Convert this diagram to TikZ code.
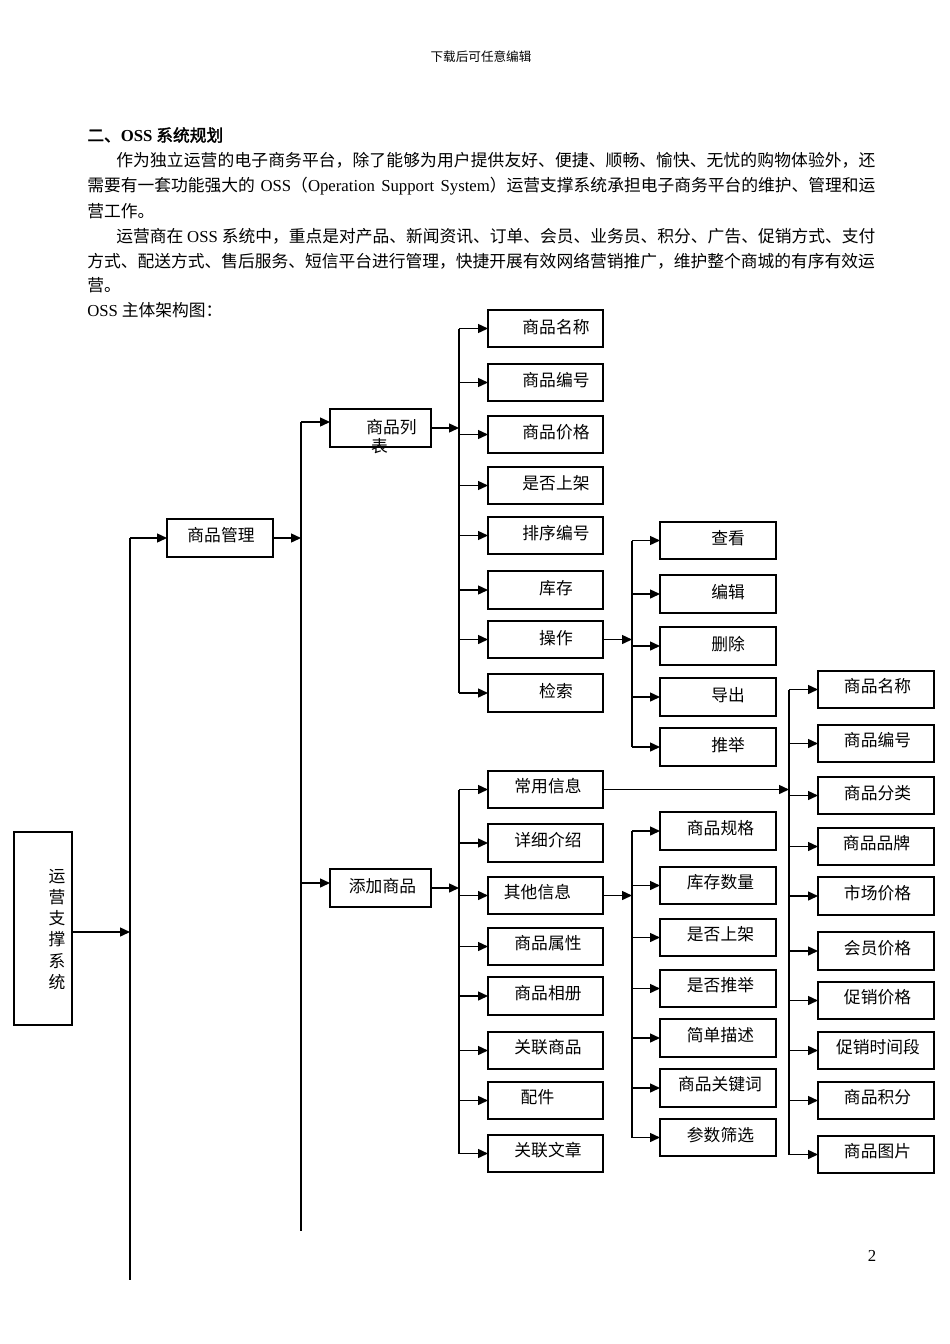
\documentclass[tikz,border=0pt]{standalone}
\usepackage{fontspec}
\setmainfont{Noto Sans CJK SC}[AutoFakeBold=2]
\newfontfamily\lat{Liberation Serif}
\usetikzlibrary{arrows.meta}
\XeTeXlinebreaklocale "zh"
\XeTeXlinebreakskip=0pt plus 1pt
\newcommand\qbox[5]{\node[boxst, minimum width={(#4-#2)*0.62661pt}, minimum height={(#5-#3)*0.62661pt}] (#1) at ({(#2+#4)/2},{(#3+#5)/2}) {};}
\newcommand\qlbl[4]{\node[lbl] (l#1) at (#2,#3) {#4};}
\newcommand\jline[2]{\parbox{#1}{\parindent=0pt\parfillskip=0pt\relax #2\par}}
\tikzset{
  boxst/.style={draw, rectangle, line width=0.85pt, inner sep=0pt, outer sep=0pt},
  lbl/.style={inner sep=0pt, font=\fontsize{10.5}{12}\selectfont},
  ln/.style={line width=0.8pt},
  arr/.style={line width=0.8pt, -{Triangle[length=6.2pt,width=5.6pt]}},
  txt/.style={anchor=west, inner sep=0pt, font=\fontsize{10.5}{12}\selectfont},
}
\begin{document}
\begin{tikzpicture}[x=0.62661pt, y=-0.62661pt]
\fill[white] (0,0) rectangle (950,1344);
\useasboundingbox (0,0) rectangle (950,1344);

% header and text
\node[inner sep=0pt, font=\fontsize{7.9}{9}\selectfont] (hdr) at (481,57) {下载后可任意编辑};
\node[txt] (title) at (87,135) {\bfseries 二、{\lat\bfseries OSS} 系统规划};
\node[txt] (p1a) at (116,160) {\jline{475.6pt}{作为独立运营的电子商务平台，除了能够为用户提供友好、便捷、顺畅、愉快、无忧的购物体验外，还}};
\node[txt] (p1b) at (87,186) {\makebox[493.8pt][s]{需要有一套功能强大的 {\lat OSS}（{\lat Operation Support System}）运营支撑系统承担电子商务平台的维护、管理和运}};
\node[txt] (p1c) at (87,211) {营工作。};
\node[txt] (p2a) at (116,236) {\makebox[475.6pt][s]{运营商在{\lat\ OSS\ }系统中，重点是对产品、新闻资讯、订单、会员、业务员、积分、广告、促销方式、支付}};
\node[txt] (p2b) at (87,261) {\makebox[493.8pt][s]{方式、配送方式、售后服务、短信平台进行管理，快捷开展有效网络营销推广，维护整个商城的有序有效运}};
\node[txt] (p2c) at (87,285) {营。};
\node[txt] (p3) at (87,310) {{\lat OSS} 主体架构图：};
\node[inner sep=0pt, font=\lat\fontsize{10.5}{12}\selectfont] (pgno) at (872,1256) {2};

% main boxes
\qbox{sys}{14}{832}{72}{1025}
\node[lbl, align=center, font=\fontsize{10.5}{13.2}\selectfont] (lsys) at (57,929.5) {运\\营\\支\\撑\\系\\统};
\qbox{pm}{167}{519}{273}{557}  \qlbl{pm}{221}{535}{商品管理}
\qbox{pl}{330}{409}{431}{447}
\node[lbl, align=left, anchor=west] (lpl) at (366,436.5) {商品列\\\hspace*{3pt}表};
\qbox{pa}{330}{869}{431}{907} \qlbl{pa}{382.5}{886}{添加商品}

% column A
\qbox{a1}{488}{310}{603}{347} \qlbl{a1}{556}{327}{商品名称}
\qbox{a2}{488}{364}{603}{401} \qlbl{a2}{556}{380}{商品编号}
\qbox{a3}{488}{416}{603}{453} \qlbl{a3}{556}{432}{商品价格}
\qbox{a4}{488}{467}{603}{504} \qlbl{a4}{556}{483}{是否上架}
\qbox{a5}{488}{517}{603}{554} \qlbl{a5}{556}{533}{排序编号}
\qbox{a6}{488}{571}{603}{609} \qlbl{a6}{556}{588}{库存}
\qbox{a7}{488}{621}{603}{658} \qlbl{a7}{556}{638}{操作}
\qbox{a8}{488}{674}{603}{712} \qlbl{a8}{556}{691}{检索}

% column B
\qbox{b1}{660}{522}{776}{559} \qlbl{b1}{728}{538}{查看}
\qbox{b2}{660}{575}{776}{613} \qlbl{b2}{728}{592}{编辑}
\qbox{b3}{660}{627}{776}{665} \qlbl{b3}{728}{644}{删除}
\qbox{b4}{660}{678}{776}{716} \qlbl{b4}{728}{695}{导出}
\qbox{b5}{660}{728}{776}{766} \qlbl{b5}{728}{745}{推举}

% column C
\qbox{c1}{818}{671}{934}{708} \qlbl{c1}{877.5}{686}{商品名称}
\qbox{c2}{818}{725}{934}{762} \qlbl{c2}{877.5}{740}{商品编号}
\qbox{c3}{818}{777}{934}{814} \qlbl{c3}{877.5}{793}{商品分类}
\qbox{c4}{818}{828}{934}{865} \qlbl{c4}{876.5}{843}{商品品牌}
\qbox{c5}{818}{877}{934}{915} \qlbl{c5}{877.5}{893}{市场价格}
\qbox{c6}{818}{932}{934}{970} \qlbl{c6}{877.5}{948}{会员价格}
\qbox{c7}{818}{982}{934}{1019} \qlbl{c7}{877.5}{997}{促销价格}
\qbox{c8}{818}{1032}{934}{1069} \qlbl{c8}{878}{1047}{促销时间段}
\qbox{c9}{818}{1082}{934}{1119} \qlbl{c9}{877.5}{1097}{商品积分}
\qbox{c10}{818}{1136}{934}{1173} \qlbl{c10}{877.5}{1151}{商品图片}

% column D
\qbox{d1}{488}{771}{603}{808} \qlbl{d1}{548}{786}{常用信息}
\qbox{d2}{488}{824}{603}{862} \qlbl{d2}{548}{840}{详细介绍}
\qbox{d3}{488}{877}{603}{914} \qlbl{d3}{537.5}{892}{其他信息}
\qbox{d4}{488}{928}{603}{965} \qlbl{d4}{548}{943}{商品属性}
\qbox{d5}{488}{977}{603}{1015} \qlbl{d5}{548}{993}{商品相册}
\qbox{d6}{488}{1032}{603}{1069} \qlbl{d6}{548}{1047}{关联商品}
\qbox{d7}{488}{1082}{603}{1119} \qlbl{d7}{537.5}{1097}{配件}
\qbox{d8}{488}{1135}{603}{1172} \qlbl{d8}{548}{1150}{关联文章}

% column E
\qbox{e1}{660}{812}{776}{850} \qlbl{e1}{720.5}{828}{商品规格}
\qbox{e2}{660}{867}{776}{904} \qlbl{e2}{720.5}{882}{库存数量}
\qbox{e3}{660}{919}{776}{956} \qlbl{e3}{720.5}{934}{是否上架}
\qbox{e4}{660}{970}{776}{1007} \qlbl{e4}{720.5}{985}{是否推举}
\qbox{e5}{660}{1019}{776}{1057} \qlbl{e5}{720.5}{1035}{简单描述}
\qbox{e6}{660}{1069}{776}{1107} \qlbl{e6}{720}{1084}{商品关键词}
\qbox{e7}{660}{1119}{776}{1156} \qlbl{e7}{720.5}{1135}{参数筛选}

% trunk coordinates
\coordinate (T1s) at (130,932);
\coordinate (T1end) at (130,1280);
\coordinate (T2a) at (301,422);
\coordinate (T2b) at (301,883);
\coordinate (T2end) at (301,1231);
\coordinate (T3) at (459,0);
\coordinate (T4) at (632,0);
\coordinate (T5) at (789,0);

% level 1
\draw[arr] (T1s -| sys.east) -- (T1s);
\draw[ln] (T1s |- pm.west) -- (T1end);
\draw[arr] (T1s |- pm.west) -- (pm.west);

% level 2
\draw[arr] (pm.east) -- (pm.east -| T2a);
\draw[ln] (T2a) -- (T2end);
\draw[arr] (T2a) -- (T2a -| pl.west);
\draw[arr] (T2b) -- (T2b -| pa.west);

% 商品列表 branch
\draw[arr] (pl.east) -- (pl.east -| T3);
\draw[ln] (T3 |- a1.west) -- (T3 |- a8.west);
\foreach \n in {a1,a2,a3,a4,a5,a6,a7,a8} \draw[arr] (T3 |- \n.west) -- (\n.west);

% 操作 branch
\draw[arr] (a7.east) -- (a7.east -| T4);
\draw[ln] (T4 |- b1.west) -- (T4 |- b5.west);
\foreach \n in {b1,b2,b3,b4,b5} \draw[arr] (T4 |- \n.west) -- (\n.west);

% 添加商品 branch
\draw[arr] (pa.east) -- (pa.east -| T3);
\draw[ln] (T3 |- d1.west) -- (T3 |- d8.west);
\foreach \n in {d1,d2,d3,d4,d5,d6,d7,d8} \draw[arr] (T3 |- \n.west) -- (\n.west);

% 其他信息 branch
\draw[arr] (d3.east) -- (d3.east -| T4);
\draw[ln] (T4 |- e1.west) -- (T4 |- e7.west);
\foreach \n in {e1,e2,e3,e4,e5,e6,e7} \draw[arr] (T4 |- \n.west) -- (\n.west);

% 常用信息 branch
\draw[arr] (d1.east) -- (d1.east -| T5);
\draw[ln] (T5 |- c1.west) -- (T5 |- c10.west);
\foreach \n in {c1,c2,c3,c4,c5,c6,c7,c8,c9,c10} \draw[arr] (T5 |- \n.west) -- (\n.west);
\end{tikzpicture}
\end{document}
